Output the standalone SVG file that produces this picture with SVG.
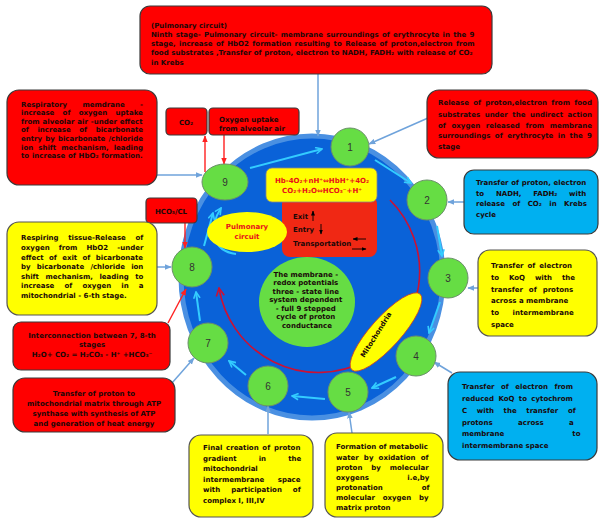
<svg xmlns="http://www.w3.org/2000/svg" width="599" height="524" viewBox="0 0 599 524">
<style>
.rbox{fill:#FF0000;stroke:#3a3a3a;stroke-width:1.2}
.ybox{fill:#FFFF00;stroke:#555;stroke-width:1.2}
.bbox{fill:#00B0F0;stroke:#3a3a3a;stroke-width:1.2}
.node{fill:#66DD44;stroke:#6b8f6b;stroke-width:1}
.t{font-family:"DejaVu Sans",Verdana,sans-serif;font-weight:bold;font-size:7px;fill:#1a0808}
.c{text-anchor:middle}
.num{font-family:"Liberation Sans",Arial,sans-serif;font-size:10px;fill:#333;text-anchor:middle}
.red{fill:#E8101A}
.blue{stroke:#6FA3DB;stroke-width:1.5;fill:none}
.cyan{stroke:#33CCFF;stroke-width:2;fill:none}
.rl{stroke:#FF2020;stroke-width:1.4;fill:none}
</style>
<defs>
<marker id="ab" viewBox="0 0 10 10" refX="9" refY="5" markerUnits="userSpaceOnUse" markerWidth="7" markerHeight="7" orient="auto"><path d="M0,1 L10,5 L0,9 z" fill="#6FA3DB"/></marker>
<marker id="ac" viewBox="0 0 10 10" refX="9" refY="5" markerUnits="userSpaceOnUse" markerWidth="8" markerHeight="8" orient="auto"><path d="M1,1 L9,5 L1,9" fill="none" stroke="#33CCFF" stroke-width="2"/></marker>
<marker id="ar" viewBox="0 0 10 10" refX="9" refY="5" markerUnits="userSpaceOnUse" markerWidth="7" markerHeight="7" orient="auto"><path d="M0,1 L10,5 L0,9 z" fill="#FF2020"/></marker>
<marker id="ad" viewBox="0 0 10 10" refX="9" refY="5" markerUnits="userSpaceOnUse" markerWidth="10" markerHeight="10" orient="auto"><path d="M1,1 L9,5 L1,9" fill="none" stroke="#CC1133" stroke-width="1.6"/></marker>
<marker id="ak" viewBox="0 0 10 10" refX="9" refY="5" markerUnits="userSpaceOnUse" markerWidth="5" markerHeight="5" orient="auto"><path d="M0,1 L10,5 L0,9 z" fill="#000"/></marker>
</defs>

<g id="cycle-circle">
<ellipse cx="312" cy="277" rx="131" ry="141" fill="#0A62D8" stroke="#4A90E2" stroke-width="5"/>
</g>

<g id="connectors">
<path class="cyan" marker-end="url(#ac)" d="M250,168 L322,149"/>
<path class="cyan" marker-end="url(#ac)" d="M375,160 L411,183"/>
<path class="cyan" marker-end="url(#ac)" d="M437,226 L442,256"/>
<path class="cyan" marker-end="url(#ac)" d="M440,302 L429,333"/>
<path class="cyan" marker-end="url(#ac)" d="M396,377 L372,388"/>
<path class="cyan" marker-end="url(#ac)" d="M325,399 L292,396"/>
<path class="cyan" marker-end="url(#ac)" d="M246,375 L229,361"/>
<path class="cyan" marker-end="url(#ac)" d="M200,321 L196,292"/>
<path class="cyan" marker-end="url(#ac)" d="M204,246 L213,213"/>
<path class="cyan" marker-end="url(#ac)" d="M236,254 C212,251 208,228 221,208"/>
<path d="M390,200 A101,101 0 1 1 219,288" fill="none" stroke="#CC1133" stroke-width="1.6" marker-end="url(#ad)"/>
<path class="blue" marker-end="url(#ab)" d="M318,74 L318,136"/>
<path class="blue" marker-end="url(#ab)" d="M428,118 L369,144"/>
<path class="blue" marker-end="url(#ab)" d="M157,175 L202,175"/>
<path class="blue" marker-end="url(#ab)" d="M464,202 L448,202"/>
<path class="blue" marker-end="url(#ab)" d="M478,288 L468,288"/>
<path class="blue" marker-end="url(#ab)" d="M452,373 L434,362"/>
<path class="blue" marker-end="url(#ab)" d="M352,433 L349,412"/>
<path class="blue" marker-end="url(#ab)" d="M268,434 L268,406"/>
<path class="blue" marker-end="url(#ab)" d="M172,383 L194,358"/>
<path class="blue" marker-end="url(#ab)" d="M157,267 L171,267"/>
<path class="rl" marker-end="url(#ar)" d="M205,172 L205,136"/>
<path class="rl" marker-end="url(#ar)" d="M224,135 L224,164"/>
<path class="rl" marker-end="url(#ar)" d="M185,223 L185,248"/>
<path class="rl" marker-end="url(#ar)" d="M168,323 L186,289"/>
</g>

<g id="equation-box">
<rect x="282" y="196" width="95" height="61" rx="8" fill="#F02814"/>
<rect x="266" y="168" width="111" height="34" rx="6" fill="#FFFF00" stroke="#888" stroke-width="0.8"/>
<text class="t c red" x="322" y="183" font-size="6.8">Hb-4O₂+nH⁺⇔HbH⁺+4O₂</text>
<text class="t c red" x="322" y="193" font-size="6.8">CO₂+H₂O⇔HCO₃⁻+H⁺</text>
<text class="t" x="293" y="219" font-size="6.3">Exit</text>
<path d="M313,221 L313,211" stroke="#000" stroke-width="0.9" marker-end="url(#ak)"/>
<text class="t" x="293" y="232" font-size="6.3">Entry</text>
<path d="M321,224 L321,234" stroke="#000" stroke-width="0.9" marker-end="url(#ak)"/>
<text class="t" x="293" y="246" font-size="6.3">Transportation</text>
<path d="M366,239 L353,239" stroke="#000" stroke-width="0.9" marker-end="url(#ak)"/>
<path d="M352,249 L366,249" stroke="#000" stroke-width="0.9" marker-end="url(#ak)"/>
</g>

<g id="pulmonary-circuit">
<ellipse cx="247" cy="232" rx="40" ry="20" fill="#FFFF00"/>
<text class="t c red" x="247" y="229" font-size="6.4">Pulmonary</text>
<text class="t c red" x="247" y="239" font-size="6.4">circuit</text>
</g>

<g id="center">
<ellipse cx="307" cy="302" rx="48" ry="45" fill="#66DD44"/>
<text class="t c" font-size="6.3" fill="#111">
<tspan x="307" y="276.5">The membrane -</tspan>
<tspan x="307" y="285">redox potentials</tspan>
<tspan x="307" y="293.5">three - state line</tspan>
<tspan x="307" y="302">system dependent</tspan>
<tspan x="307" y="310.5">- full 9 stepped</tspan>
<tspan x="307" y="319">cycle of proton</tspan>
<tspan x="307" y="327.5">conductance</tspan>
</text>
</g>

<g id="mitochondria">
<ellipse cx="386" cy="332" rx="51" ry="15" fill="#FFFF00" stroke="#D04020" stroke-width="0.8" transform="rotate(-48 386 332)"/>
<text class="t c" font-size="5.6" transform="translate(378 336) rotate(-58)">Mitochondria</text>
</g>

<g id="node1"><ellipse class="node" cx="350" cy="147" rx="19" ry="19"/><text class="num" x="350" y="151">1</text></g>
<g id="node2"><ellipse class="node" cx="427" cy="200" rx="20" ry="20"/><text class="num" x="427" y="204">2</text></g>
<g id="node3"><ellipse class="node" cx="448" cy="278" rx="20" ry="20"/><text class="num" x="448" y="282">3</text></g>
<g id="node4"><ellipse class="node" cx="416" cy="356" rx="20" ry="20"/><text class="num" x="416" y="360">4</text></g>
<g id="node5"><ellipse class="node" cx="348" cy="392" rx="20" ry="20"/><text class="num" x="348" y="396">5</text></g>
<g id="node6"><ellipse class="node" cx="268" cy="386" rx="20" ry="20"/><text class="num" x="268" y="390">6</text></g>
<g id="node7"><ellipse class="node" cx="208" cy="343" rx="20" ry="20"/><text class="num" x="208" y="347">7</text></g>
<g id="node8"><ellipse class="node" cx="192" cy="267" rx="20" ry="20"/><text class="num" x="192" y="271">8</text></g>
<g id="node9"><ellipse class="node" cx="225" cy="182" rx="23" ry="18"/><text class="num" x="225" y="186">9</text></g>

<g id="box-top">
<rect class="rbox" x="140" y="6" width="352" height="68" rx="10"/>
<text class="t" font-size="7.1" x="151" y="27.5">(Pulmonary circuit)</text>
<text class="t" font-size="7.1" x="151" y="36.8" word-spacing="0.85">Ninth stage- Pulmonary circuit- membrane surroundings of erythrocyte in the 9</text>
<text class="t" font-size="7.1" x="151" y="45.8" word-spacing="1">stage,  increase of HbO2 formation resulting to Release of proton,electron from</text>
<text class="t" font-size="7.1" x="151" y="55.2" word-spacing="0.14">food substrates ,Transfer of proton, electron  to NADH, FADH₂ with release of CO₂</text>
<text class="t" font-size="7.1" x="151" y="64.5">in Krebs</text>
</g>

<g id="box-respiratory">
<rect class="rbox" x="7" y="90" width="150" height="95" rx="12"/>
<text class="t" x="21" y="106.5" word-spacing="12.9">Respiratory memdrane -</text>
<text class="t" x="21" y="115" word-spacing="5.8">increase of oxygen uptake</text>
<text class="t" x="21" y="123.5" word-spacing="0.5">from alveolar air -under effect</text>
<text class="t" x="21" y="132" word-spacing="6.1">of increase of bicarbonate</text>
<text class="t" x="21" y="141" word-spacing="0.7">entry by bicarbonate /chloride</text>
<text class="t" x="21" y="149.5" word-spacing="2.6">ion shift mechanism, leading</text>
<text class="t" x="21" y="158" word-spacing="0.3">to increase of HbO₂ formation.</text>
</g>

<g id="box-co2">
<rect class="rbox" x="166" y="108" width="41" height="27" rx="4"/>
<text class="t c" x="186" y="125" font-size="9.5" font-weight="normal">CO₂</text>
</g>

<g id="box-oxygen">
<rect class="rbox" x="209" y="108" width="90" height="27" rx="4"/>
<text class="t" x="219" y="122">Oxygen uptake</text>
<text class="t" x="219" y="131">from alveolar air</text>
</g>

<g id="box-hco3">
<rect class="rbox" x="146" y="198" width="51" height="25" rx="4"/>
<text class="t c" x="171" y="214" font-size="7.4">HCO₃/CL</text>
</g>

<g id="box-release">
<rect class="rbox" x="427" y="90" width="171" height="68" rx="12"/>
<text class="t" x="438" y="105" word-spacing="1.85">Release of proton,electron from food</text>
<text class="t" x="438" y="116.5" word-spacing="2.1">substrates under the undirect action</text>
<text class="t" x="438" y="127.5" word-spacing="3.2">of oxygen released from membrane</text>
<text class="t" x="438" y="138" word-spacing="2">surroundings of erythrocyte in the 9</text>
<text class="t" x="438" y="149">stage</text>
</g>

<g id="box-krebs">
<rect class="bbox" x="464" y="170" width="134" height="64" rx="10"/>
<text class="t" x="476" y="185" word-spacing="0.27">Transfer of proton, electron</text>
<text class="t" x="476" y="195.5" word-spacing="9.3">to NADH, FADH₂ with</text>
<text class="t" x="476" y="206" word-spacing="5">release of CO₂ in Krebs</text>
<text class="t" x="476" y="216.5">cycle</text>
</g>

<g id="box-koq">
<rect class="ybox" x="478" y="250" width="119" height="86" rx="12"/>
<text class="t" font-size="8" x="491" y="268" word-spacing="1.5">Transfer of electron</text>
<text class="t" font-size="8" x="491" y="279.8" word-spacing="7.4">to KoQ with the</text>
<text class="t" font-size="8" x="491" y="291.6" word-spacing="3.5">transfer of protons</text>
<text class="t" font-size="8" x="491" y="303.4">across a membrane</text>
<text class="t" font-size="8" x="491" y="315.2" word-spacing="11">to intermembrane</text>
<text class="t" font-size="8" x="491" y="327">space</text>
</g>

<g id="box-cytochrom">
<rect class="bbox" x="448" y="372" width="149" height="88" rx="12"/>
<text class="t" font-size="8" x="462" y="388.5" word-spacing="4">Transfer of electron from</text>
<text class="t" font-size="8" x="462" y="400.5" word-spacing="1.9">reduced KoQ to cytochrom</text>
<text class="t" font-size="8" x="462" y="412.5" word-spacing="7.2">C with the transfer of</text>
<text class="t" font-size="8" x="462" y="424.5" word-spacing="23.1">protons across a</text>
<text class="t" font-size="8" x="462" y="436" word-spacing="65.6">membrane to</text>
<text class="t" font-size="8" x="462" y="448">intermembrane space</text>
</g>

<g id="box-water">
<rect class="ybox" x="325" y="433" width="118" height="84" rx="12"/>
<text class="t" font-size="7.2" x="336" y="449">Formation of metabolic</text>
<text class="t" font-size="7.2" x="336" y="459.5" word-spacing="2.7">water by oxidation of</text>
<text class="t" font-size="7.2" x="336" y="470" word-spacing="6.4">proton by molecular</text>
<text class="t" font-size="7.2" x="336" y="480" word-spacing="36.1">oxygens i.e,by</text>
<text class="t" font-size="7.2" x="336" y="490" word-spacing="36.6">protonation of</text>
<text class="t" font-size="7.2" x="336" y="500" word-spacing="5.3">molecular oxygen by</text>
<text class="t" font-size="7.2" x="336" y="510">matrix proton</text>
</g>

<g id="box-gradient">
<rect class="ybox" x="189" y="435" width="124" height="82" rx="12"/>
<text class="t" font-size="7.2" x="203" y="450" word-spacing="1.3">Final creation of proton</text>
<text class="t" font-size="7.2" x="203" y="460.5" word-spacing="19.6">gradient in the</text>
<text class="t" font-size="7.2" x="203" y="471">mitochondrial</text>
<text class="t" font-size="7.2" x="203" y="481.5" word-spacing="11.1">intermembrane space</text>
<text class="t" font-size="7.2" x="203" y="492" word-spacing="8.5">with participation of</text>
<text class="t" font-size="7.2" x="203" y="502.5">complex I, III,IV</text>
</g>

<g id="box-atp">
<rect class="rbox" x="13" y="378" width="162" height="54" rx="12"/>
<text class="t c" font-size="7.3" x="94" y="395.5">Transfer of proton to</text>
<text class="t c" font-size="7.3" x="94" y="405.5">mitochondrial matrix through ATP</text>
<text class="t c" font-size="7.3" x="94" y="416">synthase with synthesis of ATP</text>
<text class="t c" font-size="7.3" x="94" y="426">and generation of heat energy</text>
</g>

<g id="box-interconnection">
<rect class="rbox" x="13" y="322" width="157" height="48" rx="8"/>
<text class="t c" font-size="6.9" x="92" y="337.5">Interconnection between 7, 8-th</text>
<text class="t c" font-size="6.9" x="92" y="346.5">stages</text>
<text class="t c" font-size="6.9" x="92" y="356.5">H₂O+ CO₂ = H₂CO₃ - H⁺ +HCO₃⁻</text>
</g>

<g id="box-tissue">
<rect class="ybox" x="7" y="222" width="150" height="93" rx="12"/>
<text class="t" font-size="7.1" x="21" y="240" word-spacing="7.2">Respiring tissue-Release of</text>
<text class="t" font-size="7.1" x="21" y="250" word-spacing="6.7">oxygen from HbO2 -under</text>
<text class="t" font-size="7.1" x="21" y="259.5" word-spacing="2.9">effect of exit of bicarbonate</text>
<text class="t" font-size="7.1" x="21" y="269" word-spacing="3.8">by bicarbonate /chloride ion</text>
<text class="t" font-size="7.1" x="21" y="278.5" word-spacing="4.1">shift mechanism, leading to</text>
<text class="t" font-size="7.1" x="21" y="288" word-spacing="7.7">increase of oxygen in a</text>
<text class="t" font-size="7.1" x="21" y="297.5">mitochondrial - 6-th stage.</text>
</g>
</svg>
